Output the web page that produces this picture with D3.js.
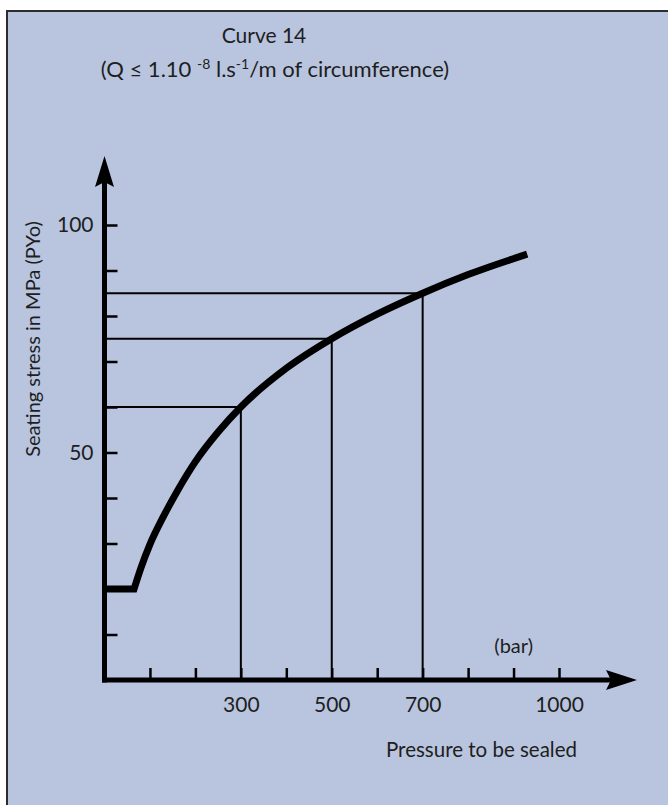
<!DOCTYPE html>
<html>
<head>
<meta charset="utf-8">
<script src="https://cdn.jsdelivr.net/npm/d3@7"></script>
<style>
  html, body { margin: 0; padding: 0; background: #ffffff; }
  svg { display: block; }
  text { font-family: Lato, "Open Sans", sans-serif; fill: #1e1e1e; }
</style>
</head>
<body>
<svg id="chart" width="668" height="805"></svg>
<script>
// Seating stress required versus pressure to be sealed (curve 14)
const curvePressure = [0, 65, 80, 100, 130, 160, 200, 250, 300, 400, 500, 600, 700, 800, 930];
const curveStress   = [20, 20, 24.6, 29.8, 36, 41.5, 48, 54.5, 60, 68.5, 75, 80.4, 85, 89.1, 93.6];

// Reading guides drawn from the curve down to each axis
const guidePressure = [300, 500, 700];
const guideStress   = [60, 75, 85];

const xTickValues = [100, 200, 300, 400, 500, 600, 700, 800, 900, 1000];
const xTickLabels = [300, 500, 700, 1000];
const yTickValues = [10, 20, 30, 40, 50, 60, 70, 80, 90, 100];
const yTickLabels = [50, 100];

const svg = d3.select("#chart");

// panel
svg.append("rect")
  .attr("x", 7).attr("y", 11)
  .attr("width", 670).attr("height", 810)
  .attr("fill", "#b9c5de")
  .attr("stroke", "#2c2c2c")
  .attr("stroke-width", 2);

const x = d3.scaleLinear().domain([0, 1000]).range([104.5, 559]);
const y = d3.scaleLinear().domain([0, 100]).range([680, 225]);

// title
svg.append("text")
  .attr("x", 264).attr("y", 43)
  .attr("text-anchor", "middle")
  .style("font-size", "21px")
  .text("Curve 14");

const sub = svg.append("text")
  .attr("x", 275).attr("y", 77)
  .attr("text-anchor", "middle")
  .style("font-size", "22px");
sub.append("tspan").text("(Q \u2264 1.10 ");
sub.append("tspan").attr("dy", -8).style("font-size", "14px").text("-8");
sub.append("tspan").attr("dy", 8).text(" l.s");
sub.append("tspan").attr("dy", -8).style("font-size", "14px").text("-1");
sub.append("tspan").attr("dy", 8).text("/m of circumference)");

// guides
const guides = svg.append("g").attr("stroke", "#000").attr("stroke-width", 2);
guidePressure.forEach((p, i) => {
  guides.append("line")
    .attr("x1", x(0)).attr("x2", x(p))
    .attr("y1", y(guideStress[i])).attr("y2", y(guideStress[i]));
  guides.append("line")
    .attr("x1", x(p)).attr("x2", x(p))
    .attr("y1", y(guideStress[i])).attr("y2", y(0));
});

// y axis ticks and labels
const yAxis = d3.axisLeft(y)
  .tickValues(yTickValues)
  .tickSizeInner(-13)
  .tickSizeOuter(0)
  .tickPadding(11)
  .tickFormat(d => yTickLabels.includes(d) ? d : "");
const gy = svg.append("g").attr("transform", `translate(${x(0)},0)`).call(yAxis);
gy.select(".domain").remove();
gy.selectAll(".tick line").attr("stroke", "#000").attr("stroke-width", 2.5);
gy.selectAll(".tick text")
  .style("font-family", "Lato, sans-serif")
  .style("font-size", "21px")
  .attr("fill", "#1e1e1e");

// x axis ticks and labels
const xAxis = d3.axisBottom(x)
  .tickValues(xTickValues)
  .tickSizeInner(-12)
  .tickSizeOuter(0)
  .tickPadding(17)
  .tickFormat(d => xTickLabels.includes(d) ? d : "");
const gx = svg.append("g").attr("transform", `translate(0,${y(0)})`).call(xAxis);
gx.select(".domain").remove();
gx.selectAll(".tick line").attr("stroke", "#000").attr("stroke-width", 2.5);
gx.selectAll(".tick text")
  .style("font-family", "Lato, sans-serif")
  .style("font-size", "21px")
  .attr("fill", "#1e1e1e");

// axis lines with arrow heads
const axes = svg.append("g");
axes.append("line")
  .attr("x1", x(0)).attr("x2", x(0))
  .attr("y1", y(0) + 2.5).attr("y2", 180)
  .attr("stroke", "#000").attr("stroke-width", 5);
axes.append("path")
  .attr("d", `M${x(0)},156 L${x(0) + 9.5},187 L${x(0)},182 L${x(0) - 9.5},187 Z`)
  .attr("fill", "#000");
axes.append("line")
  .attr("x1", x(0) - 2.5).attr("x2", 615)
  .attr("y1", y(0)).attr("y2", y(0))
  .attr("stroke", "#000").attr("stroke-width", 5);
axes.append("path")
  .attr("d", `M637,${y(0)} L606,${y(0) - 10} L611,${y(0)} L606,${y(0) + 10} Z`)
  .attr("fill", "#000");

// the curve: flat plateau then a smooth rise
const pts = curvePressure.map((p, i) => [p, curveStress[i]]);
const flat = d3.line().x(d => x(d[0])).y(d => y(d[1]))(pts.slice(0, 2));
const rise = d3.line().x(d => x(d[0])).y(d => y(d[1]))
  .curve(d3.curveMonotoneX)(pts.slice(1));
svg.append("path")
  .attr("d", flat + rise.replace(/^M/, "L"))
  .attr("fill", "none")
  .attr("stroke", "#000")
  .attr("stroke-width", 7)
  .attr("stroke-linejoin", "miter");

// axis titles
svg.append("text")
  .attr("x", 533).attr("y", 653)
  .attr("text-anchor", "end")
  .style("font-size", "20px")
  .text("(bar)");

svg.append("text")
  .attr("x", 577).attr("y", 757)
  .attr("text-anchor", "end")
  .style("font-size", "20.5px")
  .text("Pressure to be sealed");

svg.append("text")
  .attr("transform", "translate(40,339) rotate(-90)")
  .attr("text-anchor", "middle")
  .style("font-size", "20px")
  .text("Seating stress in MPa (PYo)");
</script>
</body>
</html>
